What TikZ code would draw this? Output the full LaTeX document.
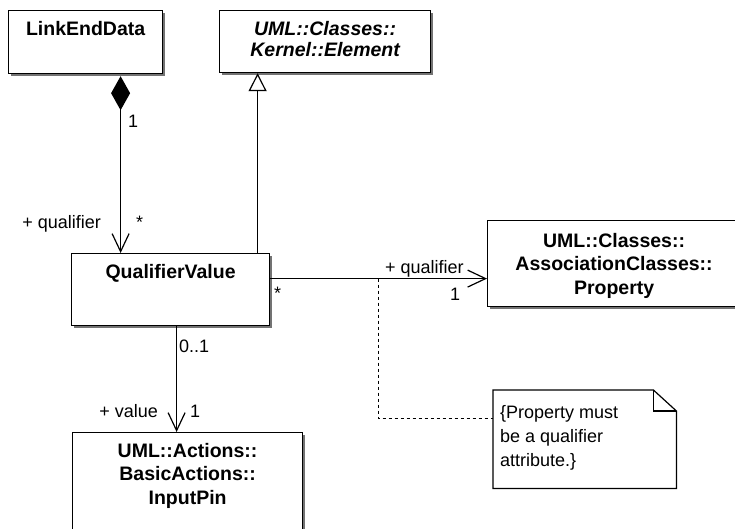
\documentclass[tikz,border=0pt]{standalone}
\usepackage{fontspec}
\setmainfont{Liberation Sans}
\usetikzlibrary{arrows.meta,positioning,shadows}
\tikzset{
  cls/.style={draw, line width=1.2pt, fill=white, anchor=north west,
              inner sep=0pt, drop shadow={shadow xshift=2pt,
              shadow yshift=-2pt, fill=black!55, opacity=1}},
  cname/.style={font=\fontsize{19.5}{23.5}\selectfont\bfseries,
                align=center, inner sep=0pt},
  absname/.style={cname, font=\fontsize{19.5}{21}\selectfont\bfseries\itshape},
  lbl/.style={font=\fontsize{18}{24}\selectfont, inner sep=0pt},
  link/.style={line width=1.2pt},
  nav/.style={link, -{Straight Barb[length=18pt, width=17pt]}},
  compo/.style={link, {Diamond[length=34pt, width=19pt]}-{Straight Barb[length=18pt, width=17pt]}},
  gen/.style={link, -{Triangle[length=18pt, width=18pt, fill=white]}},
  noteline/.style={line width=1pt, dash pattern=on 3pt off 3pt},
}

\begin{document}
\begin{tikzpicture}[x=1pt, y=-1pt]
  % frame (boxes running off the edge are cut)
  \useasboundingbox (0,0) rectangle (735,529);
  \clip (0,0) rectangle (735,529);
  % classes
  \node[cls, minimum width=154pt, minimum height=63pt] (led) at (8,10) {};
  \node[cname, below=11pt of led.north] (ledname) {LinkEndData};
  \node[cls, minimum width=211pt, minimum height=62pt] (elem) at (219,10) {};
  \node[absname, below=11pt of elem.north] (elemname)
    {UML::Classes::\\Kernel::Element};
  \node[cls, minimum width=198pt, minimum height=72pt] (qv) at (71,253) {};
  \node[cname, below=11pt of qv.north] (qvname) {QualifierValue};
  \node[cls, minimum width=253pt, minimum height=86pt] (prop) at (487,220) {};
  \node[cname, below=13pt of prop.north] (propname)
    {UML::Classes::\\AssociationClasses::\\Property};
  \node[cls, minimum width=230pt, minimum height=120pt] (pin) at (72,432) {};
  \node[cname, below=11pt of pin.north] (pinname)
    {UML::Actions::\\BasicActions::\\InputPin};
  % composition
  \coordinate (cq) at ([xshift=35pt]led.south);
  \draw[compo, shorten <=2pt] (cq) -- (cq |- qv.north);
  \node[lbl, anchor=base west] (m1) at (128,128) {1};
  \node[lbl, anchor=base east] (r1) at (101,228) {+ qualifier};
  \node[lbl, anchor=base west] (m2) at (136,228) {*};
  % generalization
  \coordinate (gq) at ([xshift=87pt]qv.north);
  \draw[gen] (gq) -- (gq |- elem.south);
  % association to Property
  \coordinate (aq) at ([yshift=11pt]qv.east);
  \draw[nav] (aq) -- (aq -| prop.west);
  \node[lbl, anchor=base west] (m3) at (274,299) {*};
  \node[lbl, anchor=base west] (r2) at (385,273) {+ qualifier};
  \node[lbl, anchor=base west] (m4) at (450,300) {1};
  % value
  \coordinate (vq) at ([xshift=6pt]qv.south);
  \draw[nav] (vq) -- (vq |- pin.north);
  \node[lbl, anchor=base west] (m5) at (179,352) {0..1};
  \node[lbl, anchor=base east] (r3) at (158,417) {+ value};
  \node[lbl, anchor=base west] (m6) at (190,417) {1};
  % note
  \node[minimum width=183pt, minimum height=98pt, anchor=north west,
    inner sep=0pt] (note) at (493,390) {};
  \draw[line width=1.2pt] (note.north west) -- ([xshift=-23pt]note.north east)
    -- ([yshift=-21pt]note.north east) -- (note.south east)
    -- (note.south west) -- cycle;
  \draw[line width=1.2pt] ([xshift=-23pt]note.north east)
    |- ([yshift=-21pt]note.north east);
  \node[lbl, align=left, below right=15pt and 7pt of note.north west] (notetext)
    {\{Property must\\be a qualifier\\attribute.\}};
  \coordinate (na) at ([xshift=108pt]aq);
  \draw[noteline] (na) |- ([yshift=21pt]note.west);
\end{tikzpicture}
\end{document}
